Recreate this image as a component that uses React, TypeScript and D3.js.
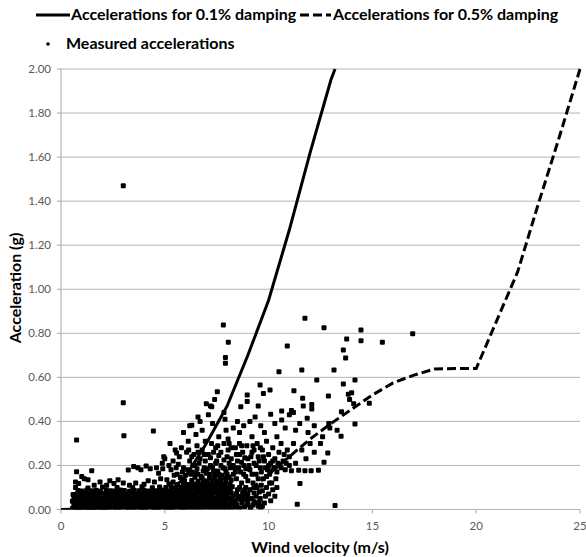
import React from "react";
import * as d3 from "d3";

// damping model curves
const solidX = [0, 1, 2, 3, 4, 5, 6, 7, 8, 9, 10, 11, 12, 13, 13.2];
const solidY = [0, 0.002, 0.005, 0.012, 0.025, 0.06, 0.15, 0.3, 0.47, 0.7, 0.95, 1.27, 1.62, 1.95, 2.0];
const dashedX = [0, 5, 7, 8, 9, 10, 11, 12, 13, 14, 15, 16, 17, 18, 19, 20, 21, 22, 23, 24, 25];
const dashedY = [0, 0.004, 0.01, 0.02, 0.08, 0.16, 0.24, 0.32, 0.39, 0.455, 0.52, 0.575, 0.61, 0.638, 0.64, 0.64, 0.86, 1.08, 1.39, 1.69, 2.0];

// measured accelerations: dense band near the ground
const measuredBand = [
  [0.56,0.006],[0.75,0.009],[0.95,0.005],[1.14,0.008],[1.33,0.006],[1.53,0.01],[1.72,0.005],[1.92,0.007],[2.11,0.009],[2.31,0.005],[2.5,0.008],[2.7,0.006],[2.89,0.01],[3.09,0.005],[3.28,0.007],[3.48,0.009],[3.67,0.006],[3.87,0.008],[4.06,0.005],[4.26,0.01],[4.45,0.007],[4.65,0.006],[4.84,0.009],[5.04,0.005],[5.23,0.008],[5.43,0.006],[5.62,0.01],[5.82,0.007],[6.01,0.005],[6.21,0.009],[6.4,0.006],[6.6,0.008],[6.79,0.005],[6.99,0.01],[7.18,0.007],[7.38,0.006],[7.57,0.009],[7.77,0.005],[7.96,0.008],[8.16,0.006],[8.37,0.01],[8.6,0.007],[8.84,0.012],[9.12,0.008],[9.5,0.015],[9.62,0.004],
  [0.62,0.022],[0.84,0.025],[1.04,0.02],[1.23,0.024],[1.43,0.021],[1.62,0.026],[1.82,0.022],[2.01,0.02],[2.21,0.025],[2.4,0.023],[2.6,0.021],[2.79,0.026],[2.99,0.022],[3.18,0.024],[3.38,0.02],[3.57,0.025],[3.77,0.023],[3.96,0.021],[4.16,0.026],[4.35,0.022],[4.55,0.024],[4.74,0.02],[4.94,0.025],[5.13,0.023],[5.33,0.021],[5.52,0.026],[5.72,0.022],[5.91,0.024],[6.11,0.02],[6.3,0.025],[6.5,0.023],[6.69,0.021],[6.89,0.026],[7.08,0.022],[7.28,0.024],[7.47,0.02],[7.67,0.025],[7.86,0.023],[8.06,0.021],[8.26,0.027],[8.48,0.022],[8.72,0.03],[8.95,0.02],[9.3,0.035],
  [0.55,0.038],[0.75,0.041],[0.94,0.036],[1.14,0.04],[1.33,0.037],[1.53,0.042],[1.72,0.038],[1.92,0.036],[2.11,0.041],[2.31,0.039],[2.5,0.037],[2.7,0.042],[2.89,0.038],[3.09,0.04],[3.28,0.036],[3.48,0.041],[3.67,0.039],[3.87,0.037],[4.06,0.042],[4.26,0.038],[4.45,0.04],[4.65,0.036],[4.84,0.041],[5.04,0.039],[5.23,0.037],[5.43,0.042],[5.62,0.038],[5.82,0.04],[6.01,0.036],[6.21,0.041],[6.4,0.039],[6.6,0.037],[6.79,0.042],[6.99,0.038],[7.18,0.04],[7.38,0.036],[7.57,0.041],[7.77,0.039],[7.96,0.037],[8.18,0.043],[8.4,0.038],[8.65,0.045],[9.02,0.05],
  [0.62,0.054],[0.84,0.057],[1.04,0.052],[1.23,0.056],[1.43,0.053],[1.62,0.058],[1.82,0.054],[2.01,0.052],[2.21,0.057],[2.4,0.055],[2.6,0.053],[2.79,0.058],[2.99,0.054],[3.18,0.056],[3.38,0.052],[3.57,0.057],[3.77,0.055],[3.96,0.053],[4.16,0.058],[4.35,0.054],[4.55,0.056],[4.74,0.052],[4.94,0.057],[5.13,0.055],[5.33,0.053],[5.52,0.058],[5.72,0.054],[5.91,0.056],[6.11,0.052],[6.3,0.057],[6.5,0.055],[6.69,0.053],[6.89,0.058],[7.08,0.054],[7.28,0.056],[7.47,0.052],[7.67,0.057],[7.86,0.055],[8.06,0.053],[8.3,0.06],[8.55,0.056],[8.85,0.065],
  [0.58,0.068],[0.78,0.072],[0.97,0.07],[1.17,0.074],[1.36,0.069],[1.56,0.072],[1.75,0.07],[1.95,0.074],[2.14,0.068],[2.34,0.072],[2.53,0.07],[2.73,0.075],[2.92,0.069],[3.12,0.072],[3.31,0.07],[3.51,0.074],[3.7,0.068],[3.9,0.072],[4.09,0.07],[4.29,0.074],[4.48,0.069],[4.68,0.072],[4.87,0.07],[5.07,0.074],[5.26,0.068],[5.46,0.072],[5.65,0.07],[5.85,0.075],[6.04,0.069],[6.24,0.072],[6.43,0.07],[6.63,0.074],[6.82,0.068],[7.02,0.072],[7.21,0.07],[7.41,0.074],[7.6,0.069],[7.8,0.072],[7.99,0.07],[8.2,0.075],[8.45,0.072],
  [0.82,0.086],[1.02,0.084],[1.25,0.088],[1.48,0.085],[1.7,0.087],[1.9,0.083],[2.18,0.088],[2.4,0.085],[2.62,0.084],[2.85,0.088],[3.05,0.086],[3.3,0.083],[3.52,0.087],[3.75,0.085],[3.98,0.088],[4.2,0.084],[4.42,0.087],[4.62,0.085],[4.82,0.088],[5.02,0.086],[5.22,0.084],[5.42,0.088],[5.61,0.086],[5.8,0.083],[6.0,0.087],[6.2,0.085],[6.39,0.088],[6.58,0.086],[6.78,0.084],[6.97,0.088],[7.16,0.085],[7.36,0.087],[7.55,0.084],[7.75,0.088],[7.95,0.086],[8.15,0.085],
  [0.7,0.1],[1.3,0.098],[2.0,0.102],[2.7,0.1],[3.45,0.1],[3.9,0.103],[4.4,0.099],[4.75,0.102],[5.05,0.1],[5.3,0.104],[5.55,0.099],[5.78,0.102],[6.0,0.1],[6.2,0.104],[6.42,0.1],[6.62,0.103],[6.82,0.099],[7.02,0.102],[7.22,0.1],[7.42,0.104],[7.62,0.1],[7.82,0.102],[8.02,0.099],[8.25,0.103],
  [5.2,0.116],[5.6,0.113],[5.9,0.117],[6.12,0.114],[6.32,0.118],[6.52,0.115],[6.72,0.113],[6.92,0.117],[7.12,0.114],[7.32,0.118],[7.52,0.115],[7.72,0.113],[7.92,0.117],[8.15,0.114],
  [5.95,0.13],[6.3,0.132],[6.6,0.128],[6.85,0.133],[7.05,0.129],[7.3,0.131],[7.5,0.128],[7.7,0.133],[7.95,0.13],[8.2,0.134],
  [6.45,0.146],[6.8,0.143],[7.15,0.148],[7.4,0.144],[7.65,0.147],[7.9,0.143],[8.1,0.148],
  [8.5,0.09],[8.6,0.1],[8.75,0.08],[8.9,0.1],[9.0,0.07],[9.1,0.09],[9.2,0.05],[9.3,0.075],[9.4,0.06],[9.45,0.1],[9.6,0.05],[9.7,0.085],[9.8,0.03],[9.9,0.1],[10.0,0.07],[10.1,0.04],[10.2,0.09],[10.3,0.06],[8.65,0.06],[8.8,0.045],[9.0,0.03],[9.25,0.02],[9.7,0.015],[10.05,0.12],[10.4,0.1],
];

// measured accelerations: middle cloud
const measuredMid = [
  [0.75,0.171],[0.7,0.125],[0.85,0.118],[1.0,0.15],[1.12,0.14],[1.3,0.135],[1.48,0.176],[1.88,0.125],[2.35,0.13],[2.55,0.118],[2.75,0.135],[3.0,0.12],[3.24,0.179],[3.5,0.195],[3.7,0.19],[3.85,0.18],[4.1,0.198],[4.3,0.185],[4.6,0.19],[4.7,0.165],[4.88,0.21],[4.9,0.185],[4.95,0.239],[5.0,0.23],[5.25,0.3],[5.5,0.27],[5.57,0.257],[5.7,0.24],[5.8,0.28],[5.3,0.18],[5.45,0.155],[5.65,0.205],[5.9,0.19],[6.13,0.31],[6.05,0.26],[6.2,0.22],[6.3,0.17],[6.4,0.25],[6.45,0.2],[6.55,0.29],[6.6,0.16],[6.7,0.23],[6.8,0.27],[6.9,0.19],[6.95,0.31],[7.0,0.165],[7.1,0.25],[7.2,0.2],[7.25,0.3],[7.35,0.175],[7.45,0.28],[7.5,0.22],[7.6,0.16],[7.7,0.26],[7.8,0.19],[7.85,0.3],[7.95,0.17],[8.0,0.24],[8.1,0.21],[8.2,0.28],[8.3,0.16],[8.35,0.19],[8.45,0.25],[8.5,0.22],[8.6,0.3],[8.65,0.17],[8.7,0.12],[8.75,0.26],[8.8,0.2],[8.85,0.09],[8.9,0.15],[8.95,0.29],[9.0,0.23],[9.05,0.05],[9.1,0.18],[9.2,0.26],[9.25,0.12],[9.3,0.21],[9.35,0.03],[9.4,0.16],[9.45,0.3],[9.5,0.24],[9.55,0.08],[9.6,0.19],[9.7,0.27],[9.75,0.14],[9.8,0.22],[9.9,0.31],[9.95,0.18],[10.0,0.25],[10.05,0.16],[10.1,0.21],[10.2,0.28],[10.25,0.19],[10.3,0.23],[10.4,0.17],[10.5,0.26],[10.55,0.2],[10.6,0.3],[10.7,0.22],[10.8,0.18],[10.9,0.27],[11.0,0.24],[11.1,0.176],[11.2,0.3],[11.3,0.21],[11.38,0.024],[11.45,0.178],[11.51,0.118],[11.6,0.27],[11.75,0.176],[11.8,0.23],[12.0,0.3],[12.05,0.176],[12.2,0.26],[12.4,0.178],[12.67,0.214],[12.85,0.257],[13.2,0.018],[12.5,0.3],[9.55,0.035],[9.15,0.01],[9.85,0.06],[9.3,0.1],[10.15,0.12],[10.35,0.14],[9.65,0.11],
  [3.6,0.12],[4.0,0.115],[4.2,0.13],[4.5,0.125],[4.8,0.14],[5.1,0.135],[5.4,0.125],[3.3,0.11],[2.2,0.11],[1.6,0.11],
  [5.6,0.16],[5.75,0.145],[5.85,0.17],[6.0,0.155],[6.1,0.18],[6.25,0.16],[6.35,0.2],[6.5,0.165],[6.55,0.185],[6.65,0.21],[6.75,0.15],[6.85,0.175],[6.95,0.22],[7.05,0.185],[7.15,0.16],[7.2,0.235],[7.3,0.19],[7.4,0.155],[7.45,0.21],[7.55,0.175],[7.6,0.245],[7.7,0.2],[7.75,0.155],[7.85,0.225],[7.9,0.185],[8.0,0.16],[8.05,0.27],[8.15,0.19],[8.2,0.23],[8.3,0.2],[8.4,0.17],[8.45,0.14],[8.55,0.19],[8.6,0.25],[8.7,0.215],[8.8,0.16],[8.85,0.235],[8.9,0.185],[9.0,0.13],[9.05,0.2],[9.15,0.24],[9.2,0.16],[9.3,0.27],[9.4,0.2],[9.5,0.14],[9.55,0.22],[9.65,0.17],[9.75,0.24],[9.85,0.19],[9.9,0.15],[10.0,0.2],[10.1,0.175],[10.2,0.22],[10.3,0.19],[10.45,0.21],[10.6,0.19],[10.75,0.25],[10.85,0.21],[11.0,0.2],[5.2,0.2],[5.4,0.22],[5.55,0.19],[6.15,0.27],[6.3,0.24],[6.6,0.26],[6.9,0.25],[7.35,0.26],[7.55,0.29],[8.1,0.3],[8.4,0.28],[8.7,0.29],[9.25,0.29],[9.6,0.28],
];

// measured accelerations: sparse upper points
const measuredHigh = [
  [0.75,0.315],[3.0,1.47],[3.0,0.485],[3.03,0.335],[4.45,0.356],
  [5.9,0.35],[6.2,0.38],[6.3,0.383],[6.6,0.42],[6.7,0.4],[6.5,0.34],[6.8,0.36],[7.0,0.48],[7.1,0.43],[7.2,0.47],[7.26,0.467],[7.3,0.39],[7.4,0.5],[7.53,0.535],[7.6,0.33],[7.82,0.838],[8.06,0.759],[7.92,0.69],[7.92,0.664],[7.85,0.44],[7.9,0.41],[7.95,0.36],[8.05,0.32],[8.3,0.37],[8.5,0.4],[8.66,0.466],[8.6,0.35],[8.8,0.38],[8.97,0.52],[8.97,0.49],[9.1,0.4],[9.2,0.33],[9.35,0.42],[9.5,0.47],[9.59,0.565],[9.62,0.38],[9.75,0.527],[9.8,0.35],[10.07,0.542],[10.1,0.433],[10.3,0.39],[10.4,0.33],[10.5,0.625],[10.63,0.447],[10.63,0.406],[10.8,0.37],[10.9,0.742],[11.0,0.43],[11.1,0.45],[11.2,0.44],[11.22,0.539],[11.3,0.36],[11.5,0.39],[11.6,0.633],[11.64,0.505],[11.67,0.47],[11.75,0.868],[11.86,0.414],[11.9,0.35],[12.08,0.477],[12.08,0.456],[12.2,0.38],[12.32,0.588],[12.6,0.33],[12.67,0.825],[12.88,0.515],[12.9,0.39],[12.95,0.37],[13.15,0.633],[13.3,0.36],[13.49,0.333],[13.51,0.444],[13.6,0.724],[13.6,0.57],[13.71,0.688],[13.76,0.774],[13.84,0.523],[13.9,0.5],[14.0,0.53],[14.1,0.48],[14.16,0.588],[14.16,0.388],[14.45,0.815],[14.45,0.766],[14.85,0.482],[15.48,0.759],[16.94,0.798],
];

const yTicks = [0, 0.2, 0.4, 0.6, 0.8, 1.0, 1.2, 1.4, 1.6, 1.8, 2.0];
const xTicks = [0, 5, 10, 15, 20, 25];
const legendLabels = ["Accelerations for 0.1% damping", "Accelerations for 0.5% damping", "Measured accelerations"];

const W = 586;
const H = 557;
const left = 61, right = 580, top = 69, bottom = 509.5;
const font = "Lato, Carlito, Calibri, sans-serif";

export default function App() {
  const x = d3.scaleLinear().domain([0, 25]).range([left, right]);
  const y = d3.scaleLinear().domain([0, 2]).range([bottom, top]);

  const curve = d3.line<[number, number]>().x(d => x(d[0])).y(d => y(d[1]));
  const solidPath = curve(solidX.map((v, i) => [v, solidY[i]] as [number, number]));
  const dashedPath = curve(dashedX.map((v, i) => [v, dashedY[i]] as [number, number]));

  const points = [...measuredBand, ...measuredMid, ...measuredHigh];
  const ms = 5; // marker size

  return (
    <svg width={W} height={H} style={{ position: "absolute", left: 0, top: 0, background: "#fff" }}>
      <defs>
        <clipPath id="plot">
          <rect x={left} y={top - 2} width={right - left + 2} height={bottom - top + 2} />
        </clipPath>
      </defs>

      {/* grid */}
      {yTicks.map(t => (
        <line key={"g" + t} x1={left} x2={right} y1={y(t)} y2={y(t)} stroke="#b4b4b4" strokeWidth={1} />
      ))}
      <line x1={left} x2={left} y1={top} y2={bottom} stroke="#a6a6a6" />
      {yTicks.map(t => (
        <line key={"yt" + t} x1={left - 4} x2={left} y1={y(t)} y2={y(t)} stroke="#a6a6a6" />
      ))}
      {xTicks.map(t => (
        <line key={"xt" + t} x1={x(t)} x2={x(t)} y1={bottom} y2={bottom + 4} stroke="#a6a6a6" />
      ))}

      {/* tick labels */}
      {yTicks.map(t => (
        <text key={"yl" + t} x={51} y={y(t) + 4} textAnchor="end" fontFamily={font} fontSize={11.5} fill="#595959">
          {d3.format(".2f")(t)}
        </text>
      ))}
      {xTicks.map(t => (
        <text key={"xl" + t} x={x(t)} y={530} textAnchor="middle" fontFamily={font} fontSize={11.5} fill="#595959">
          {t}
        </text>
      ))}

      {/* axis titles */}
      <text x={320} y={553} textAnchor="middle" fontFamily={font} fontSize={16} fontWeight="bold" fill="#000">
        Wind velocity (m/s)
      </text>
      <text transform={`translate(21,288) rotate(-90)`} textAnchor="middle" fontFamily={font} fontSize={16} fontWeight="bold" fill="#000">
        Acceleration (g)
      </text>

      {/* measured points and curves */}
      <g clipPath="url(#plot)">
        {points.map((p, i) => (
          <rect key={"p" + i} x={x(p[0]) - ms / 2} y={y(p[1]) - ms / 2} width={ms} height={ms} rx={1} fill="#000" />
        ))}
        <path d={solidPath || ""} fill="none" stroke="#000" strokeWidth={3} />
        <path d={dashedPath || ""} fill="none" stroke="#000" strokeWidth={3} strokeDasharray="9,4" />
      </g>

      {/* legend */}
      <line x1={36} x2={70} y1={15} y2={15} stroke="#000" strokeWidth={3} />
      <text x={71} y={20} fontFamily={font} fontSize={16} fontWeight="bold" fill="#000">{legendLabels[0]}</text>
      <line x1={300} x2={331} y1={15} y2={15} stroke="#000" strokeWidth={3} strokeDasharray="9,4" />
      <text x={333} y={20} fontFamily={font} fontSize={16} fontWeight="bold" fill="#000">{legendLabels[1]}</text>
      <circle cx={48} cy={44} r={1.8} fill="#000" />
      <text x={66} y={49} fontFamily={font} fontSize={16} fontWeight="bold" fill="#000">{legendLabels[2]}</text>
    </svg>
  );
}
